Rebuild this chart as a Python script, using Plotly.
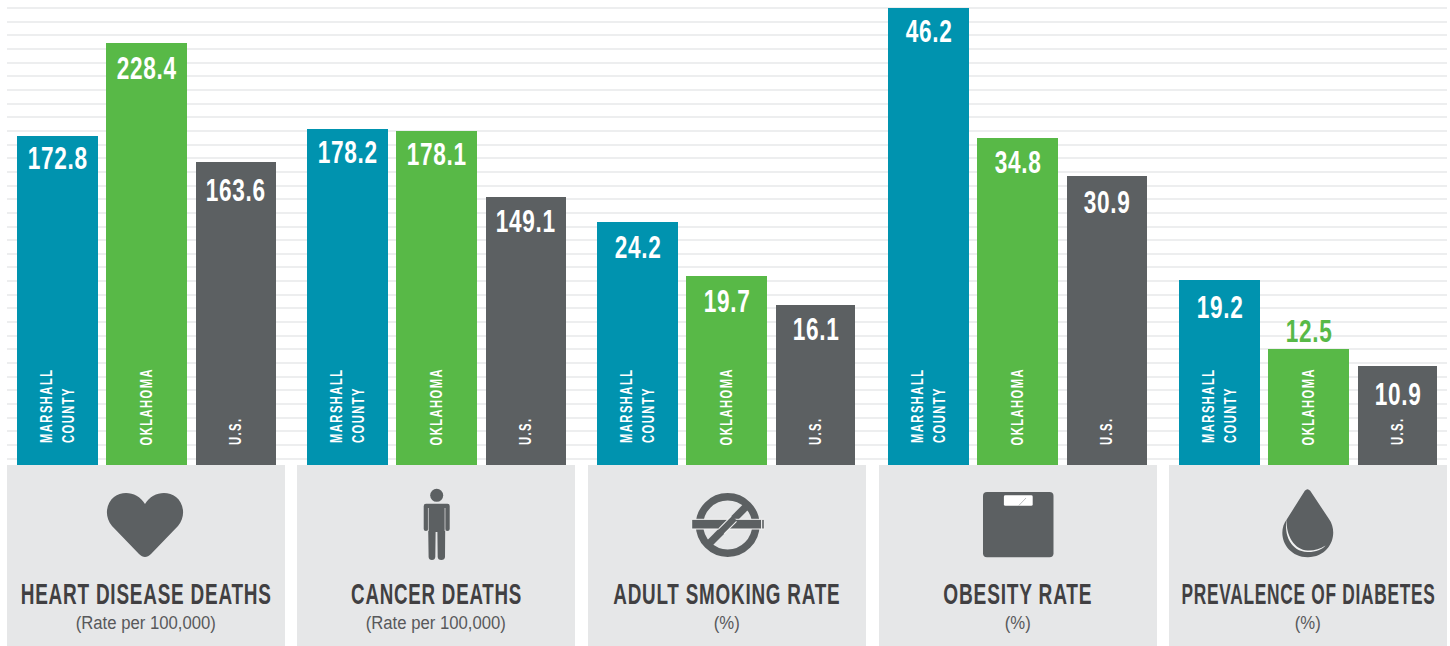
import json
import plotly.graph_objects as go

W, H = 1450, 646
BASE = 465  # pixel row of bar baseline

measures = ["HEART DISEASE DEATHS", "CANCER DEATHS", "ADULT SMOKING RATE", "OBESITY RATE", "PREVALENCE OF DIABETES"]
units = ["(Rate per 100,000)", "(Rate per 100,000)", "(%)", "(%)", "(%)"]
geographies = ["MARSHALL<br>COUNTY", "OKLAHOMA", "U.S."]
colors = ["#0093AF", "#58B947", "#5C6062"]

# printed figures
marshall_labels = ["172.8", "178.2", "24.2", "46.2", "19.2"]
oklahoma_labels = ["228.4", "178.1", "19.7", "34.8", "12.5"]
us_labels = ["163.6", "149.1", "16.1", "30.9", "10.9"]

# bar lengths as drawn in the picture (the source bars share no single scale)
marshall_lengths = [329, 336, 243, 457, 185]
oklahoma_lengths = [422, 334, 189, 327, 116]
us_lengths = [303, 268, 160, 289, 99]

label_drop = [[22, 23, 25, 23, 27], [25, 23, 25, 24, -18], [28, 24, 24, 26, 28]]
geo_shift = [0, -3, -2]
title_widths = [251, 171, 227, 149, 254]

panel_left = [7, 297, 588, 879, 1169]
first_center = [50.5, 50.5, 49.5, 49.5, 50.5]
us_bar_w = [80, 80, 79, 80, 79]
PANEL_W = 278
STEP = 89

PANEL = "#E6E7E8"; DARK = "#5C6062"; TXT = "#414042"; SUB = "#58595B"
FONT = "Liberation Sans, Arial, sans-serif"
VAL_SIZE, TITLE_SIZE, UNIT_SIZE, GEO_SIZE = 31, 29, 19, 17

def px(x): return x / W
def py(y): return 1 - y / H

def path(cmds):
    out = []
    for c in cmds:
        if isinstance(c, str):
            out.append(c)
        else:
            out.append(f"{px(c[0]):.5f},{py(c[1]):.5f}")
    return " ".join(out)

fig = go.Figure()
layout = dict(
    width=W, height=H, margin=dict(l=0, r=0, t=0, b=0, pad=0), autosize=False,
    paper_bgcolor="white", plot_bgcolor="rgba(0,0,0,0)", showlegend=False, bargap=0,
    xaxis=dict(domain=[px(7), px(1447)], range=[0, 1], visible=False, anchor="y"),
    yaxis=dict(domain=[py(BASE), 1], range=[0, BASE], anchor="x", showgrid=True, gridcolor="#EDEEEF",
               gridwidth=1.5, tick0=20, dtick=13.656, zeroline=False, showticklabels=False, ticks="", showline=False),
)
fig.add_trace(go.Scatter(x=[], y=[], xaxis="x", yaxis="y", hoverinfo="skip"))

annotations = []
shapes = []
all_lengths = [marshall_lengths, oklahoma_lengths, us_lengths]
all_labels = [marshall_labels, oklahoma_labels, us_labels]

for i, m in enumerate(measures):
    n = i + 2
    left = panel_left[i]
    x0 = -first_center[i] / STEP
    layout[f"xaxis{n}"] = dict(domain=[px(left), px(left + PANEL_W)], range=[x0, x0 + PANEL_W / STEP],
                               visible=False, anchor=f"y{n}")
    layout[f"yaxis{n}"] = dict(domain=[py(BASE), 1], range=[0, BASE], visible=False, anchor=f"x{n}")
    fig.add_trace(go.Bar(x=[0, 1, 2], y=[all_lengths[g][i] for g in range(3)],
                         marker=dict(color=colors, line=dict(width=0)),
                         width=[81 / STEP, 81 / STEP, us_bar_w[i] / STEP],
                         xaxis=f"x{n}", yaxis=f"y{n}", hoverinfo="skip"))
    for g in range(3):
        length = all_lengths[g][i]
        drop = label_drop[g][i]
        annotations.append(dict(
            x=g, y=length, xref=f"x{n}", yref=f"y{n}", yshift=-drop, yanchor="middle", xanchor="center",
            text=all_labels[g][i], showarrow=False,
            font=dict(family=FONT, size=VAL_SIZE, color="white" if drop > 0 else colors[g], weight="bold")))
        annotations.append(dict(
            x=g, y=20, xref=f"x{n}", yref=f"y{n}", xanchor="center", yanchor="bottom", align="left",
            yshift=geo_shift[g], textangle=-90, text=geographies[g], showarrow=False,
            font=dict(family=FONT, size=GEO_SIZE, color="white", weight="bold")))
    shapes.append(dict(type="rect", xref="paper", yref="paper", x0=px(left), x1=px(left + PANEL_W),
                       y0=0, y1=py(BASE), fillcolor=PANEL, line_width=0, layer="below"))
    cx = left + PANEL_W / 2
    annotations.append(dict(x=px(cx), y=py(594), xref="paper", yref="paper", xanchor="center", yanchor="middle",
                            text=m, showarrow=False, font=dict(family=FONT, size=TITLE_SIZE, color=TXT, weight="bold")))
    annotations.append(dict(x=px(cx), y=py(622), xref="paper", yref="paper", xanchor="center", yanchor="middle",
                            text=units[i], showarrow=False, font=dict(family=FONT, size=UNIT_SIZE, color=SUB)))

def add_path(cmds, fill=DARK):
    shapes.append(dict(type="path", xref="paper", yref="paper", path=path(cmds), fillcolor=fill, line_width=0))

def add_line(a, b, color, width):
    shapes.append(dict(type="line", xref="paper", yref="paper", x0=px(a[0]), y0=py(a[1]), x1=px(b[0]), y1=py(b[1]),
                       line=dict(color=color, width=width)))

def add_rect(x0, y0, x1, y1, fill, line=None, lw=0):
    shapes.append(dict(type="rect", xref="paper", yref="paper", x0=px(x0), x1=px(x1), y0=py(y1), y1=py(y0),
                       fillcolor=fill, line=dict(color=line or fill, width=lw)))

def round_rect(x0, y0, x1, y1, r, fill):
    add_path(["M", (x0 + r, y0), "L", (x1 - r, y0), "Q", (x1, y0), (x1, y0 + r), "L", (x1, y1 - r),
              "Q", (x1, y1), (x1 - r, y1), "L", (x0 + r, y1), "Q", (x0, y1), (x0, y1 - r),
              "L", (x0, y0 + r), "Q", (x0, y0), (x0 + r, y0), "Z"], fill)

# heart
add_path(["M", (145, 557), "C", (143, 557), (141, 556), (139, 554), "L", (112, 526),
          "C", (104, 517), (106, 503), (114, 497), "C", (123, 490), (138, 492), (145, 504),
          "C", (152, 492), (167, 490), (176, 497), "C", (184, 503), (186, 517), (178, 526),
          "L", (151, 554), "C", (149, 556), (147, 557), (145, 557), "Z"])

# person
shapes.append(dict(type="circle", xref="paper", yref="paper", x0=px(430.2), x1=px(443.2), y0=py(501.8), y1=py(488.8),
                   fillcolor=DARK, line_width=0))
add_path(["M", (426, 503.7), "L", (447.5, 503.7), "Q", (449.7, 503.7), (449.7, 506), "L", (449.7, 529),
          "Q", (449.7, 531), (447.3, 531), "Q", (445.2, 531), (445.2, 529), "L", (445, 557),
          "Q", (444.7, 560), (441.3, 560), "Q", (437.9, 560), (437.7, 557), "L", (437.4, 532), "L", (435.6, 532),
          "L", (435.3, 557), "Q", (435, 560), (432, 560), "Q", (428.8, 560), (428.6, 557), "L", (428.2, 529),
          "Q", (428.2, 531), (426, 531), "Q", (423.7, 531), (423.7, 529), "L", (423.7, 506),
          "Q", (423.7, 503.7), (426, 503.7), "Z"])
add_line((428.4, 508), (428.4, 531), PANEL, 0.7)
add_line((445, 508), (445, 531), PANEL, 0.7)

# no smoking
shapes.append(dict(type="circle", xref="paper", yref="paper", x0=px(699.5), x1=px(755.9), y0=py(553.2), y1=py(496.8),
                   fillcolor="rgba(0,0,0,0)", line=dict(color=DARK, width=7.5)))
add_line((746, 506.7), (709.4, 543.3), DARK, 7.5)
add_rect(691.7, 519.3, 761.7, 529, DARK, "#F5F5F5", 1)
add_rect(761.7, 519.3, 764.3, 529, DARK, "#F5F5F5", 1)
add_line((721.5, 531.2), (733.9, 518.8), "#F5F5F5", 8.5)
add_line((721, 531.7), (734.4, 518.3), DARK, 6.5)

# scale
round_rect(983, 492, 1053.5, 557.3, 4, DARK)
round_rect(1003.9, 495.3, 1032.7, 505.7, 1.5, "white")
add_line((1018.8, 505.5), (1026, 498), "#A7A9AC", 0.8)

# drop
add_path(["M", (1304.8, 490.8), "Q", (1307.5, 487.8), (1310.2, 490.8), "L", (1329, 519),
          "C", (1339, 533), (1331, 557), (1307.8, 557.3), "C", (1285, 557), (1276, 533), (1287, 519),
          "L", (1304.8, 490.8), "Z"])
add_path(["M", (1286.8, 519), "C", (1283.5, 535), (1291, 551.5), (1307.5, 552), "C", (1315.5, 552.2), (1322, 549.5), (1325.5, 545.5),
          "C", (1320, 549), (1314, 550.8), (1307.5, 550.5), "C", (1295, 550), (1285.5, 536), (1286.8, 519), "Z"], "#F1F2F2")

fig.update_layout(**layout, annotations=annotations, shapes=shapes)

# No condensed face is installed, so the real text is narrowed and tracked once it is drawn.
widths_js = json.dumps(dict(zip(measures, title_widths)))
post = """
document.body.style.margin='0';document.body.style.overflow='hidden';
var gd=document.getElementById('{plot_id}');
var titleW=%s;
function squeeze(){
  gd.querySelectorAll('text.annotation-text').forEach(function(t){
    var fs=parseFloat(t.style.fontSize), txt=t.textContent, s=1, sp=0;
    if(titleW[txt]){sp=1.2;}
    else if(fs==%d){sp=1;s=0.73;}
    else if(fs==%d){s=0.88;}
    else if(fs==%d){sp=2.2;s=0.66;}
    t.style.letterSpacing=sp+'px';
    var b=t.getBBox(), ox=(fs==%d)?b.x:b.x+b.width/2;
    if(titleW[txt]){s=titleW[txt]/b.width;}
    t.setAttribute('transform','translate('+ox+',0) scale('+s+',1) translate('+(-ox)+',0)');
  });
}
gd.on('plotly_afterplot',squeeze);squeeze();setTimeout(squeeze,150);
""" % (widths_js, VAL_SIZE, UNIT_SIZE, GEO_SIZE, GEO_SIZE)
fig.write_html("out.html", post_script=post, config=dict(displayModeBar=False))
